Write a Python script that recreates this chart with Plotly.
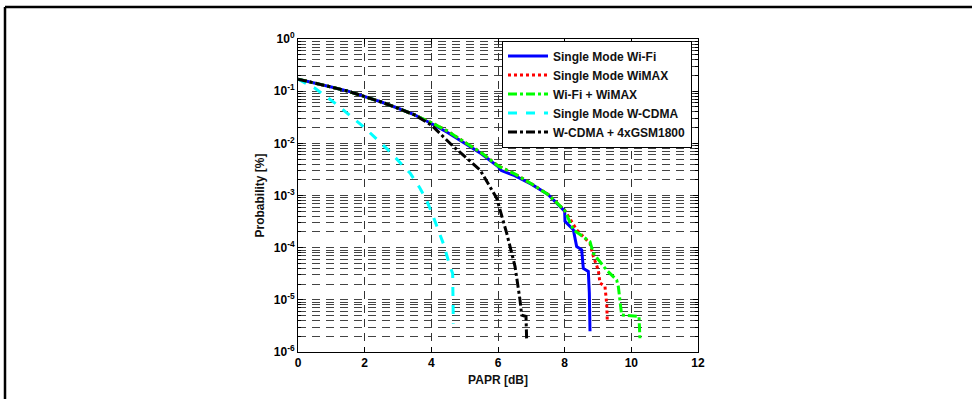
import plotly.graph_objects as go

# ---- data ----
wifi_x = [0, 0.5, 1, 1.5, 2, 2.5, 3, 3.5, 4, 4.5, 5, 5.5, 6, 6.1, 6.5, 7, 7.5, 8, 8.01, 8.26, 8.36, 8.51, 8.56, 8.71, 8.74, 8.76]
wifi_y = [0.170, 0.145, 0.120, 0.100, 0.079, 0.062, 0.047, 0.035, 0.024, 0.016, 0.0100, 0.0063, 0.0036, 0.0030, 0.0024, 0.00165, 0.00105, 0.00050,
          0.00032, 0.00022, 0.000105, 0.000091, 0.000040, 0.000035, 0.0000135, 0.0000025]

wimax_x = [0, 0.5, 1, 1.5, 2, 2.5, 3, 3.5, 4, 4.5, 5, 5.5, 6, 6.5, 7, 7.5, 8, 8.36, 8.76, 8.86, 9.01, 9.06, 9.21, 9.26, 9.28]
wimax_y = [0.170, 0.145, 0.120, 0.100, 0.079, 0.062, 0.047, 0.035, 0.025, 0.017, 0.0105, 0.0066, 0.0037, 0.0026, 0.00168, 0.00105, 0.00052,
           0.00022, 0.00012, 0.000068, 0.000037, 0.000021, 0.000018, 0.0000085, 0.0000038]

wifiwimax_x = [0, 0.5, 1, 1.5, 2, 2.5, 3, 3.5, 4, 4.5, 5, 5.5, 6, 6.5, 7, 7.5, 8, 8.26, 8.76, 8.86, 9.26, 9.41, 9.56, 9.61, 9.66, 9.71, 10.23, 10.26]
wifiwimax_y = [0.170, 0.145, 0.120, 0.100, 0.079, 0.062, 0.047, 0.035, 0.025, 0.017, 0.0105, 0.0066, 0.0037, 0.0026, 0.00168, 0.00105, 0.00052,
               0.00022, 0.00013, 0.000078, 0.000037, 0.000030, 0.000024, 0.000018, 0.0000085, 0.0000051, 0.0000048, 0.0000017]

wcdma_x = [0, 0.51, 1.11, 1.96, 2.71, 3.36, 3.66, 3.86, 4.06, 4.36, 4.56, 4.64, 4.66]
wcdma_y = [0.170, 0.1135, 0.059, 0.021, 0.0074, 0.0027, 0.00138, 0.00081, 0.00039, 0.00012, 0.000044, 0.000032, 0.0000035]

gsm_x = [0, 0.5, 1, 1.5, 2, 2.5, 3, 3.5, 4, 4.66, 5.46, 5.96, 6.26, 6.51, 6.66, 6.71, 6.84, 6.86]
gsm_y = [0.170, 0.145, 0.120, 0.100, 0.079, 0.062, 0.047, 0.035, 0.0224, 0.0087, 0.0031, 0.00089, 0.00019, 0.000044, 0.000010, 0.0000051, 0.0000048, 0.0000017]

x_ticks = [0, 2, 4, 6, 8, 10, 12]
decades = [-6, -5, -4, -3, -2, -1, 0]

# ---- axis tick construction ----
y_tickvals = [10.0 ** d for d in decades]
y_ticktext = [f"10<sup>{d}</sup>" for d in decades]
y_minorvals = [m * 10.0 ** d for d in decades if d < 0 for m in range(2, 10)]

FONT = "Liberation Sans, Arial, sans-serif"

fig = go.Figure()
series = [
    ("Single Mode Wi-Fi", wifi_x, wifi_y, "#0000ff", "solid"),
    ("Single Mode WiMAX", wimax_x, wimax_y, "#ff0000", "dot"),
    ("Wi-Fi + WiMAX", wifiwimax_x, wifiwimax_y, "#00ff00", "dashdot"),
    ("Single Mode W-CDMA", wcdma_x, wcdma_y, "#00ffff", "dash"),
    ("W-CDMA + 4xGSM1800", gsm_x, gsm_y, "#000000", "dashdot"),
]
for name, xs, ys, col, dash in series:
    fig.add_trace(go.Scatter(x=xs, y=ys, mode="lines", name=name,
                             line=dict(color=col, width=3, dash=dash)))

tick_font = dict(family=FONT, size=12, color="black", weight="bold")
title_font = dict(family=FONT, size=12, color="#111111", weight="bold")

fig.update_xaxes(range=[0, 12], tickvals=x_ticks, ticktext=[str(v) for v in x_ticks],
                 showline=True, linecolor="black", linewidth=1, mirror="allticks",
                 ticks="inside", ticklen=5, tickcolor="black",
                 showgrid=True, gridcolor="#333333", gridwidth=1, griddash="8px,6px",
                 zeroline=False, tickfont=tick_font,
                 title=dict(text="PAPR [dB]", font=title_font, standoff=6))
fig.update_yaxes(type="log", range=[-6, 0], tickmode="array", tickvals=y_tickvals, ticktext=y_ticktext,
                 showline=True, linecolor="black", linewidth=1, mirror="allticks",
                 ticks="inside", ticklen=5, tickcolor="black",
                 showgrid=True, gridcolor="#444444", gridwidth=1, griddash="8px,6px",
                 minor=dict(tickmode="array", tickvals=y_minorvals, ticks="inside", ticklen=3,
                            tickcolor="black", showgrid=True, gridcolor="#444444", gridwidth=1,
                            griddash="8px,6px"),
                 zeroline=False, tickfont=tick_font,
                 title=dict(text="Probability [%]", font=title_font, standoff=6))

fig.update_layout(
    width=972, height=399,
    margin=dict(l=298, r=274, t=39, b=47),
    paper_bgcolor="white", plot_bgcolor="white",
    font=dict(family=FONT, size=12, color="black"),
    showlegend=True,
    legend=dict(x=0.985, y=0.995, xanchor="right", yanchor="top",
                bgcolor="white", bordercolor="black", borderwidth=1,
                font=dict(family=FONT, size=12, color="#111111", weight="bold"),
                tracegroupgap=0, itemwidth=40),
    shapes=[
        dict(type="line", xref="paper", yref="paper", x0=-0.7325, x1=1.7, y0=1.1022, y1=1.1022,
             line=dict(color="black", width=2.5)),
        dict(type="line", xref="paper", yref="paper", x0=-0.7325, x1=-0.7325, y0=1.1022, y1=-0.2,
             line=dict(color="black", width=2.5)),
    ],
)

fig.write_html("out.html", config={"displayModeBar": False},
               post_script="document.body.style.margin='0px';document.body.style.padding='0px';")
